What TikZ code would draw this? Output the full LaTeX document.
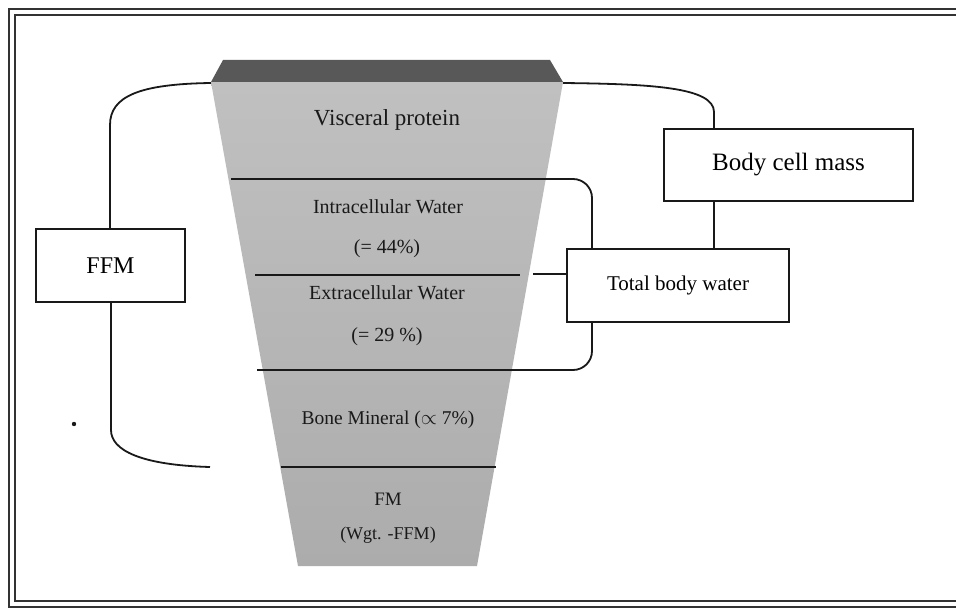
\documentclass[tikz,border=0pt]{standalone}
\usepackage{fontspec}
\setmainfont{Liberation Serif}
\definecolor{fnltop}{RGB}{192,192,192}
\definecolor{fnlmid}{RGB}{162,162,162}
\definecolor{fnlbot}{RGB}{172,172,172}
\definecolor{bandc}{RGB}{88,88,88}
\begin{document}
\begin{tikzpicture}[x=1pt,y=-1pt,
  line/.style={line width=1.8pt,black!90},
  divider/.style={line width=1.7pt,black!90},
  box/.style={draw=black!90,line width=1.6pt,fill=white,inner sep=0pt},
  ftxt/.style={text=black!90,inner sep=0pt}]
\useasboundingbox (0,0) rectangle (956,610);
\fill[white] (0,0) rectangle (956,610);
% frame
\draw[line width=2.8pt,black!80] (980,9) -- (9,9) -- (9,607) -- (980,607);
\draw[line width=1.7pt,black!80] (980,15) -- (15,15) -- (15,601) -- (980,601);
% funnel
\shade[top color=fnltop, middle color=fnlmid, bottom color=fnlbot]
  (211,82) -- (563,82) -- (477,566) -- (298,566) -- cycle;
\fill[bandc] (223,60) -- (550,60) -- (563,82) -- (211,82) -- cycle;
% coordinates
\coordinate (tl) at (211,83);
\coordinate (tr) at (563,83);
\coordinate (l1) at (231,179);
\coordinate (l3) at (257,370);
\coordinate (bx) at (592,0);
\coordinate (cx) at (714,0);
\coordinate (fe) at (210,467);
\coordinate (c2) at (533,274);
% dividers inside funnel
\draw[divider] (255,275) -- (520,275);
\draw[divider] (281,467) -- (496,467);
% boxes
\node[box,minimum width=249pt,minimum height=72pt] (bcm) at (788.5,165)
  {\fontsize{25}{30}\selectfont Body cell mass};
\node[box,minimum width=222pt,minimum height=73pt] (tbw) at (678,285.5)
  {\fontsize{21}{25}\selectfont Total body water};
\node[box,minimum width=149pt,minimum height=73pt] (ffm) at (110.5,265.5)
  {\fontsize{24}{29}\selectfont FFM};
% texts
\node[ftxt] (t1) at (387,120) {\fontsize{23}{27}\selectfont Visceral protein};
\node[ftxt] (t2) at (388,207) {\fontsize{20}{24}\selectfont Intracellular Water};
\node[ftxt] (t3) at (387,249) {\fontsize{20}{24}\selectfont (= 44\%)};
\node[ftxt] (t4) at (387,293) {\fontsize{20}{24}\selectfont Extracellular Water};
\node[ftxt] (t5) at (387,337) {\fontsize{20}{24}\selectfont (= 29 \%)};
\node[ftxt] (t6) at (388,420) {\fontsize{19.5}{23}\selectfont Bone Mineral ($\propto$ 7\%)};
\node[ftxt] (t7) at (388,499) {\fontsize{19}{23}\selectfont FM};
\node[ftxt] (t8) at (388,535) {\fontsize{18}{22}\selectfont (Wgt. -FFM)};
% connectors
\draw[line] (tl) .. controls (140,84) and (110,96) .. (110,125) -- (ffm.north -| 110,0);
\draw[line] (ffm.south -| 111,0) -- (111,430) .. controls (111,450) and (140,465) .. (fe);
\draw[line] (tr) .. controls (650,84) and (714,87) .. (714,112) -- (bcm.north -| cx);
\draw[line] (bcm.south -| cx) -- (tbw.north -| cx);
\draw[line,rounded corners=19pt] (l1) -- (592,179) -- (tbw.north -| bx);
\draw[line,rounded corners=19pt] (tbw.south -| bx) -- (592,370) -- (l3);
\draw[line] (c2) -- (tbw.west |- c2);
\fill[black!90] (74,424) circle (2.2);
\end{tikzpicture}
\end{document}
